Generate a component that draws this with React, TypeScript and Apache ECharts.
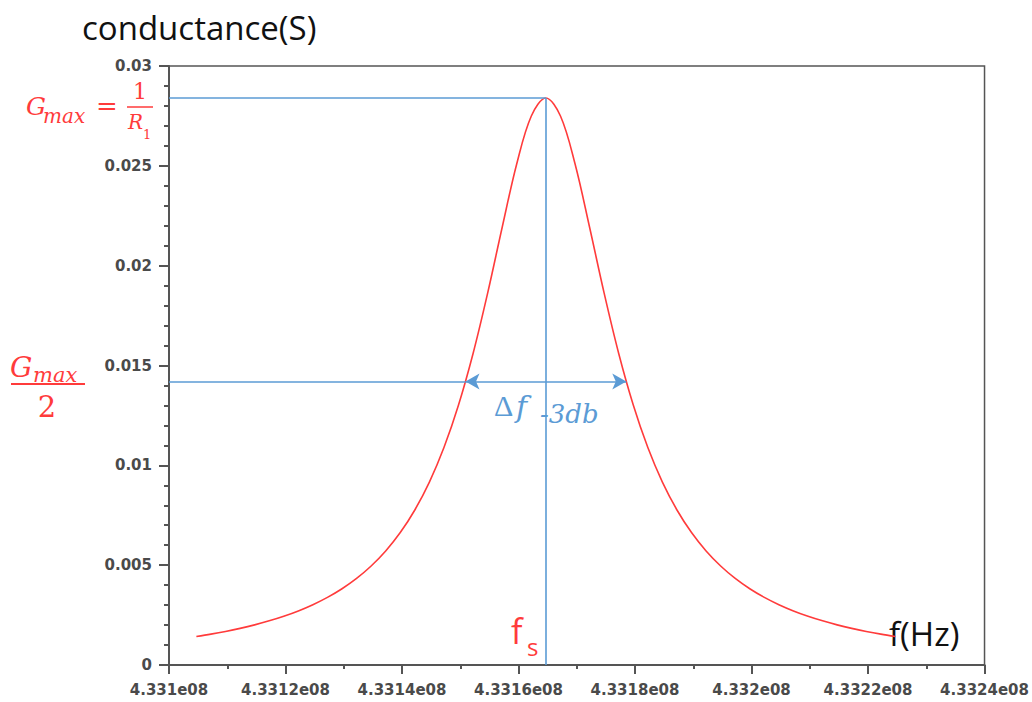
import React, { useEffect, useRef } from "react";
import * as echarts from "echarts";

// frequency (Hz) and conductance (S)
const frequencies = [
  433104700, 433107200, 433109700, 433112200, 433114700, 433117200, 433119700,
  433122200, 433124700, 433127200, 433129700, 433132200, 433134700, 433137200,
  433139700, 433142200, 433144700, 433147200, 433149700, 433152200, 433154700,
  433157200, 433159700, 433162200, 433164700, 433167200, 433169700, 433172200,
  433174700, 433177200, 433179700, 433182200, 433184700, 433187200, 433189700,
  433192200, 433194700, 433197200, 433199700, 433202200, 433204700, 433207200,
  433209700, 433212200, 433214700, 433217200, 433219700, 433222200, 433224700,
];
const conductance = [
  0.001427, 0.001547, 0.001682, 0.001835, 0.00201, 0.002211, 0.002441,
  0.002709, 0.003021, 0.003387, 0.003821, 0.004338, 0.00496, 0.005713,
  0.006633, 0.007763, 0.00916, 0.010889, 0.013019, 0.0156, 0.018622,
  0.021924, 0.025104, 0.027498, 0.0284, 0.027498, 0.025104, 0.021924,
  0.018622, 0.0156, 0.013019, 0.010889, 0.00916, 0.007763, 0.006633,
  0.005713, 0.00496, 0.004338, 0.003821, 0.003387, 0.003021, 0.002709,
  0.002441, 0.002211, 0.00201, 0.001835, 0.001682, 0.001547, 0.001427,
];

// annotation values
const fs = 433164700;
const gMax = 0.0284;
const gHalf = 0.0142;
const fLow = 433150900;
const fHigh = 433178500;
const xMin = 433100000;
const xMax = 433240000;

const RED = "#ff3b3b";
const BLUE = "#5b9bd5";

export default function App() {
  const ref = useRef<HTMLDivElement>(null);
  useEffect(() => {
    if (!ref.current) return;
    const chart = echarts.init(ref.current, null, { renderer: "svg" });
    const serif = "'Liberation Serif', serif";
    const dserif = "'DejaVu Serif', serif";
    const sans = "'Open Sans', 'Noto Sans', sans-serif";
    const t = (text: string, x: number, y: number, size: number, fill: string, family: string, style = "normal", align = "left") => ({
      type: "text",
      style: {
        text,
        x,
        y,
        fill,
        fontSize: size,
        fontFamily: family,
        fontStyle: style,
        textAlign: align,
        textVerticalAlign: "middle",
      },
      silent: true,
    });
    const line = (x1: number, y1: number, x2: number, y2: number, color: string, w: number) => ({
      type: "line",
      shape: { x1, y1, x2, y2 },
      style: { stroke: color, lineWidth: w },
      silent: true,
    });
    const labelStyle = {
      color: "#4a4a4a",
      fontSize: 15,
      fontWeight: "bold",
      fontFamily: "'DejaVu Sans', sans-serif",
    };
    chart.setOption({
      animation: false,
      backgroundColor: "#ffffff",
      grid: {
        left: 169,
        right: 47,
        top: 66,
        bottom: 37,
        show: true,
        borderColor: "#555",
        borderWidth: 1.5,
        backgroundColor: "transparent",
      },
      xAxis: {
        type: "value",
        min: xMin,
        max: xMax,
        interval: 20000,
        splitLine: { show: false },
        axisLine: { show: true, onZero: false, lineStyle: { color: "#555", width: 2 } },
        axisTick: { show: true, length: 9, lineStyle: { color: "#555", width: 2 } },
        minorTick: { show: true, splitNumber: 2, length: 4, lineStyle: { color: "#555", width: 2 } },
        axisLabel: {
          ...labelStyle,
          margin: 17,
          formatter: (v: number) => `${parseFloat((v / 1e8).toFixed(6))}e08`,
        },
      },
      yAxis: {
        type: "value",
        min: 0,
        max: 0.03,
        interval: 0.005,
        splitLine: { show: false },
        axisLine: { show: true, lineStyle: { color: "#555", width: 2 } },
        axisTick: { show: true, length: 10, lineStyle: { color: "#555", width: 2 } },
        minorTick: { show: true, splitNumber: 5, length: 5, lineStyle: { color: "#555", width: 2 } },
        axisLabel: {
          ...labelStyle,
          margin: 17,
          formatter: (v: number) => String(parseFloat(v.toFixed(3))),
        },
      },
      series: [
        {
          type: "line",
          data: frequencies.map((f, i) => [f, conductance[i]]),
          smooth: 0.35,
          showSymbol: false,
          symbol: "none",
          lineStyle: { color: RED, width: 1.6 },
          z: 3,
          markLine: {
            silent: true,
            symbol: "none",
            label: { show: false },
            lineStyle: { color: BLUE, width: 1.6, type: "solid" },
            emphasis: { disabled: true },
            data: [
              [{ coord: [xMin, gMax] }, { coord: [fs, gMax] }],
              [{ coord: [fs, 0] }, { coord: [fs, gMax] }],
              [{ coord: [xMin, gHalf] }, { coord: [fLow, gHalf] }],
              [
                { coord: [fLow, gHalf], symbol: "arrow", symbolSize: [12, 14] },
                { coord: [fHigh, gHalf], symbol: "arrow", symbolSize: [12, 14] },
              ],
            ],
          },
        },
      ],
      graphic: [
        t("conductance(S)", 82, 27, 33, "#111", sans),
        // Gmax = 1/R1
        t("G", 26, 106, 25, RED, dserif, "italic"),
        t("max", 43, 116, 20, RED, dserif, "italic"),
        t("=", 96, 106, 26, RED, dserif),
        t("1", 140, 91, 22, RED, dserif, "normal", "center"),
        line(127, 107, 153, 107, RED, 1.5),
        t("R", 128, 122, 20, RED, dserif, "italic"),
        t("1", 143, 134, 13, RED, dserif),
        // Gmax / 2
        t("G", 10, 367, 28, RED, dserif, "italic"),
        t("max", 33, 375, 21, RED, dserif, "italic"),
        line(11, 384, 85, 384, RED, 2),
        t("2", 47, 407, 29, RED, dserif, "normal", "center"),
        // delta f -3db
        t("Δ", 494, 405, 30, BLUE, serif),
        t("f", 516, 406, 30, BLUE, dserif, "italic"),
        t("-3db", 540, 414, 26, BLUE, dserif, "italic"),
        // fs
        t("f", 511, 631, 34, RED, sans),
        t("s", 527, 646, 24, RED, sans),
        // f(Hz)
        t("f(Hz)", 889, 633, 33, "#111", sans),
      ],
    });
    return () => chart.dispose();
  }, []);
  return (
    <div
      ref={ref}
      style={{ position: "fixed", left: 0, top: 0, width: 1032, height: 702, background: "#fff" }}
    />
  );
}
